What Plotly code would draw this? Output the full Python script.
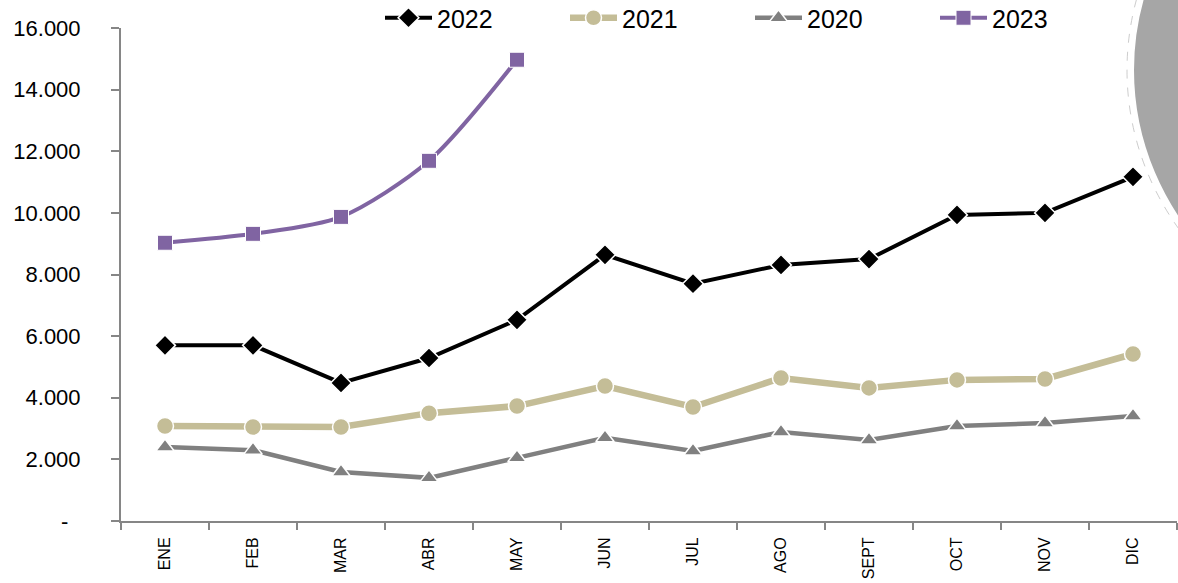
import plotly.graph_objects as go

months = ["ENE", "FEB", "MAR", "ABR", "MAY", "JUN", "JUL", "AGO", "SEPT", "OCT", "NOV", "DIC"]
v2022 = [5700, 5700, 4480, 5290, 6530, 8640, 7700, 8310, 8500, 9935, 10000, 11170]
v2021 = [3085, 3050, 3050, 3500, 3730, 4380, 3700, 4640, 4320, 4580, 4610, 5420]
v2020 = [2400, 2300, 1590, 1400, 2050, 2700, 2270, 2890, 2630, 3080, 3180, 3410]
v2023 = [9030, 9320, 9870, 11690, 14970]
ytick_vals = [0, 2000, 4000, 6000, 8000, 10000, 12000, 14000, 16000]
ytick_text = ["-\u00a0\u00a0", "2.000", "4.000", "6.000", "8.000", "10.000", "12.000", "14.000", "16.000"]

fig = go.Figure()
fig.add_trace(go.Scatter(x=months, y=v2022, name="2022", mode="lines+markers",
                         line=dict(color="#000000", width=4),
                         marker=dict(symbol="diamond", size=16, color="#000000",
                                     line=dict(color="white", width=1.5))))
fig.add_trace(go.Scatter(x=months, y=v2021, name="2021", mode="lines+markers",
                         line=dict(color="#C4BD97", width=6.5),
                         marker=dict(symbol="circle", size=17, color="#C4BD97",
                                     line=dict(color="white", width=1.5))))
fig.add_trace(go.Scatter(x=months, y=v2020, name="2020", mode="lines+markers",
                         line=dict(color="#808080", width=4.5),
                         marker=dict(symbol="triangle-up", size=16, color="#808080",
                                     line=dict(color="white", width=1.5))))
fig.add_trace(go.Scatter(x=months[:len(v2023)], y=v2023, name="2023", mode="lines+markers",
                         line=dict(color="#8064A2", width=4, shape="spline", smoothing=0.8),
                         marker=dict(symbol="square", size=15, color="#8064A2",
                                     line=dict(color="white", width=1))))

W, H = 1178, 583
L, R, T, B = 121, 1, 28, 62
pw, ph = W - L - R, H - T - B

def px(x):
    return (x - L) / pw

def py(y):
    return (H - B - y) / ph

# decorative gray ellipse at the right edge
fig.add_shape(type="circle", xref="paper", yref="paper",
              x0=px(1127), x1=px(1737), y0=py(355), y1=py(-215),
              fillcolor="rgba(0,0,0,0)", line=dict(color="#BFBFBF", width=0.8, dash="dash"),
              layer="below")
fig.add_shape(type="circle", xref="paper", yref="paper",
              x0=px(1133), x1=px(1731), y0=py(349), y1=py(-209),
              fillcolor="#A6A6A6", line=dict(color="white", width=2),
              layer="below")

font = "Liberation Sans"
fig.update_layout(
    width=W, height=H,
    margin=dict(l=L, r=R, t=T, b=B, autoexpand=False),
    paper_bgcolor="white", plot_bgcolor="rgba(0,0,0,0)",
    showlegend=True,
    legend=dict(orientation="h", x=px(380), xanchor="left", y=py(18), yanchor="middle",
                font=dict(family=font, size=25, color="#000000"),
                entrywidth=123, entrywidthmode="pixels", itemwidth=47,
                bgcolor="rgba(0,0,0,0)", tracegroupgap=0),
    xaxis=dict(type="category", categoryorder="array", categoryarray=months,
               range=[-0.5, 11.5], showgrid=False, zeroline=False, automargin=False,
               showline=True, linecolor="#868686", linewidth=2,
               ticks="outside", ticklen=7, tickcolor="#868686", tickwidth=2,
               tickson="boundaries", tickangle=-90, ticklabelstandoff=8,
               tickfont=dict(family=font, size=16, color="#000000")),
    yaxis=dict(range=[0, 16000], tickvals=ytick_vals, ticktext=ytick_text,
               showgrid=False, zeroline=False, automargin=False,
               showline=True, linecolor="#868686", linewidth=2,
               ticks="outside", ticklen=8, tickcolor="#868686", tickwidth=2,
               ticklabelstandoff=26,
               tickfont=dict(family=font, size=22, color="#000000")),
)

fig.write_html("out.html", config={"displayModeBar": False},
               post_script="document.body.style.margin='0px';")
